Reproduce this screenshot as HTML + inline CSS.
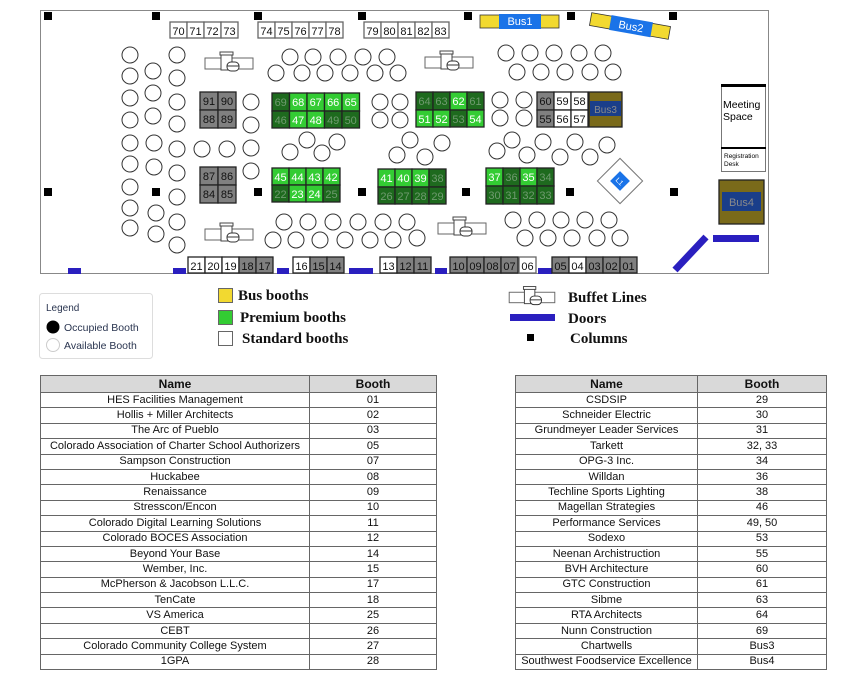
<!DOCTYPE html>
<html><head><meta charset="utf-8"><style>
body{margin:0;width:850px;height:676px;background:#fff;position:relative;overflow:hidden;font-family:"Liberation Sans",sans-serif}
svg{position:absolute;left:0;top:0}
.b rect{stroke:#222;stroke-width:1.3}
.b text{font-size:11px;text-anchor:middle;font-family:"Liberation Sans",sans-serif}
.w rect{fill:#fff}.g rect{fill:#808080}.p rect{fill:#33cc33}.d rect{fill:#1e6a1e}
.w text,.g text{fill:#111}.p text{fill:#fff}.d text{fill:#6f9a6f}
.t rect{stroke:#666}
circle.c{fill:#fff;stroke:#333;stroke-width:1}
table{position:absolute;border-collapse:collapse;table-layout:fixed;font-size:11px;color:#111}
td,th{border:1px solid #666;text-align:center;padding:0;height:14.4px;line-height:13px;white-space:nowrap;overflow:hidden}
th{background:#d9d9d9;font-size:12px;height:16px}
.lg{font-family:"Liberation Serif",serif;font-weight:bold;font-size:15px;fill:#111}
</style></head><body>
<svg width="850" height="676">
<rect x="40.5" y="10.5" width="728" height="263" fill="#fff" stroke="#888"/>
<g fill="#000">
<rect x="44" y="12" width="8" height="8"/><rect x="152" y="12" width="8" height="8"/><rect x="254" y="12" width="8" height="8"/><rect x="358" y="12" width="8" height="8"/><rect x="464" y="12" width="8" height="8"/><rect x="567" y="12" width="8" height="8"/><rect x="669" y="12" width="8" height="8"/>
<rect x="44" y="188" width="8" height="8"/><rect x="152" y="188" width="8" height="8"/><rect x="254" y="188" width="8" height="8"/><rect x="358" y="188" width="8" height="8"/><rect x="462" y="188" width="8" height="8"/><rect x="566" y="188" width="8" height="8"/><rect x="670" y="188" width="8" height="8"/>
</g>
<g>
<circle class="c" cx="130" cy="55" r="8"/><circle class="c" cx="130" cy="76" r="8"/><circle class="c" cx="130" cy="98" r="8"/><circle class="c" cx="130" cy="120" r="8"/><circle class="c" cx="130" cy="143" r="8"/><circle class="c" cx="130" cy="164" r="8"/><circle class="c" cx="130" cy="187" r="8"/><circle class="c" cx="130" cy="208" r="8"/><circle class="c" cx="130" cy="228" r="8"/>
<circle class="c" cx="153" cy="71" r="8"/><circle class="c" cx="153" cy="93" r="8"/><circle class="c" cx="153" cy="116" r="8"/><circle class="c" cx="154" cy="143" r="8"/><circle class="c" cx="154" cy="167" r="8"/><circle class="c" cx="156" cy="213" r="8"/><circle class="c" cx="156" cy="234" r="8"/>
<circle class="c" cx="177" cy="55" r="8"/><circle class="c" cx="177" cy="78" r="8"/><circle class="c" cx="177" cy="102" r="8"/><circle class="c" cx="177" cy="124" r="8"/><circle class="c" cx="177" cy="149" r="8"/><circle class="c" cx="177" cy="173" r="8"/><circle class="c" cx="177" cy="197" r="8"/><circle class="c" cx="177" cy="222" r="8"/><circle class="c" cx="177" cy="245" r="8"/>
<circle class="c" cx="202" cy="149" r="8"/><circle class="c" cx="227" cy="149" r="8"/>
<circle class="c" cx="251" cy="102" r="8"/><circle class="c" cx="251" cy="125" r="8"/><circle class="c" cx="251" cy="148" r="8"/><circle class="c" cx="251" cy="171" r="8"/>
<circle class="c" cx="290" cy="57" r="8"/><circle class="c" cx="313" cy="57" r="8"/><circle class="c" cx="338" cy="57" r="8"/><circle class="c" cx="363" cy="57" r="8"/><circle class="c" cx="387" cy="57" r="8"/>
<circle class="c" cx="276" cy="73" r="8"/><circle class="c" cx="302" cy="73" r="8"/><circle class="c" cx="325" cy="73" r="8"/><circle class="c" cx="350" cy="73" r="8"/><circle class="c" cx="375" cy="73" r="8"/><circle class="c" cx="398" cy="73" r="8"/>
<circle class="c" cx="307" cy="140" r="8"/><circle class="c" cx="337" cy="142" r="8"/><circle class="c" cx="290" cy="152" r="8"/><circle class="c" cx="322" cy="153" r="8"/>
<circle class="c" cx="284" cy="222" r="8"/><circle class="c" cx="308" cy="222" r="8"/><circle class="c" cx="333" cy="222" r="8"/><circle class="c" cx="358" cy="222" r="8"/><circle class="c" cx="383" cy="222" r="8"/><circle class="c" cx="407" cy="222" r="8"/>
<circle class="c" cx="273" cy="240" r="8"/><circle class="c" cx="296" cy="240" r="8"/><circle class="c" cx="320" cy="240" r="8"/><circle class="c" cx="345" cy="240" r="8"/><circle class="c" cx="370" cy="240" r="8"/><circle class="c" cx="393" cy="240" r="8"/><circle class="c" cx="417" cy="238" r="8"/>
<circle class="c" cx="380" cy="102" r="8"/><circle class="c" cx="400" cy="102" r="8"/><circle class="c" cx="380" cy="120" r="8"/><circle class="c" cx="400" cy="120" r="8"/>
<circle class="c" cx="410" cy="140" r="8"/><circle class="c" cx="397" cy="155" r="8"/><circle class="c" cx="425" cy="157" r="8"/><circle class="c" cx="442" cy="143" r="8"/>
<circle class="c" cx="506" cy="53" r="8"/><circle class="c" cx="530" cy="53" r="8"/><circle class="c" cx="554" cy="53" r="8"/><circle class="c" cx="579" cy="53" r="8"/><circle class="c" cx="603" cy="53" r="8"/>
<circle class="c" cx="517" cy="72" r="8"/><circle class="c" cx="541" cy="72" r="8"/><circle class="c" cx="565" cy="72" r="8"/><circle class="c" cx="590" cy="72" r="8"/><circle class="c" cx="613" cy="72" r="8"/>
<circle class="c" cx="500" cy="100" r="8"/><circle class="c" cx="524" cy="100" r="8"/><circle class="c" cx="500" cy="118" r="8"/><circle class="c" cx="524" cy="118" r="8"/>
<circle class="c" cx="497" cy="151" r="8"/><circle class="c" cx="512" cy="140" r="8"/><circle class="c" cx="527" cy="155" r="8"/><circle class="c" cx="543" cy="142" r="8"/><circle class="c" cx="560" cy="157" r="8"/><circle class="c" cx="575" cy="142" r="8"/><circle class="c" cx="590" cy="157" r="8"/><circle class="c" cx="607" cy="145" r="8"/>
<circle class="c" cx="513" cy="220" r="8"/><circle class="c" cx="537" cy="220" r="8"/><circle class="c" cx="561" cy="220" r="8"/><circle class="c" cx="585" cy="220" r="8"/><circle class="c" cx="609" cy="220" r="8"/>
<circle class="c" cx="525" cy="238" r="8"/><circle class="c" cx="548" cy="238" r="8"/><circle class="c" cx="572" cy="238" r="8"/><circle class="c" cx="597" cy="238" r="8"/><circle class="c" cx="620" cy="238" r="8"/>
</g>
<defs><g id="bf"><rect x="-24" y="-5" width="48" height="11" fill="#fff" stroke="#666"/><rect x="-8" y="-10" width="11" height="17" fill="#fff" stroke="#444"/><rect x="-9" y="-11" width="13" height="3" fill="#fff" stroke="#444"/><rect x="-2" y="-1" width="12" height="9" rx="4" fill="#fff" stroke="#333"/><line x1="-2" y1="3" x2="10" y2="3" stroke="#333"/></g></defs>
<use href="#bf" x="229" y="63"/><use href="#bf" x="229" y="234"/><use href="#bf" x="449" y="62"/><use href="#bf" x="462" y="228"/>
<g class="b w t">
<g transform="translate(170,22)"><rect width="17" height="16"/><text x="8.5" y="13">70</text></g>
<g transform="translate(187,22)"><rect width="17" height="16"/><text x="8.5" y="13">71</text></g>
<g transform="translate(204,22)"><rect width="17" height="16"/><text x="8.5" y="13">72</text></g>
<g transform="translate(221,22)"><rect width="17" height="16"/><text x="8.5" y="13">73</text></g>
<g transform="translate(258,22)"><rect width="17" height="16"/><text x="8.5" y="13">74</text></g>
<g transform="translate(275,22)"><rect width="17" height="16"/><text x="8.5" y="13">75</text></g>
<g transform="translate(292,22)"><rect width="17" height="16"/><text x="8.5" y="13">76</text></g>
<g transform="translate(309,22)"><rect width="17" height="16"/><text x="8.5" y="13">77</text></g>
<g transform="translate(326,22)"><rect width="17" height="16"/><text x="8.5" y="13">78</text></g>
<g transform="translate(364,22)"><rect width="17" height="16"/><text x="8.5" y="13">79</text></g>
<g transform="translate(381,22)"><rect width="17" height="16"/><text x="8.5" y="13">80</text></g>
<g transform="translate(398,22)"><rect width="17" height="16"/><text x="8.5" y="13">81</text></g>
<g transform="translate(415,22)"><rect width="17" height="16"/><text x="8.5" y="13">82</text></g>
<g transform="translate(432,22)"><rect width="17" height="16"/><text x="8.5" y="13">83</text></g>
</g>
<g class="b">
<g class="g" transform="translate(200,92)"><rect width="18" height="18"/><text x="9" y="13">91</text></g>
<g class="g" transform="translate(218,92)"><rect width="18" height="18"/><text x="9" y="13">90</text></g>
<g class="g" transform="translate(200,110)"><rect width="18" height="18"/><text x="9" y="13">88</text></g>
<g class="g" transform="translate(218,110)"><rect width="18" height="18"/><text x="9" y="13">89</text></g>
<g class="g" transform="translate(200,167)"><rect width="18" height="18"/><text x="9" y="13">87</text></g>
<g class="g" transform="translate(218,167)"><rect width="18" height="18"/><text x="9" y="13">86</text></g>
<g class="g" transform="translate(200,185)"><rect width="18" height="18"/><text x="9" y="13">84</text></g>
<g class="g" transform="translate(218,185)"><rect width="18" height="18"/><text x="9" y="13">85</text></g>

<g class="d" transform="translate(272,93)"><rect width="17.5" height="18"/><text x="8.7" y="13">69</text></g>
<g class="p" transform="translate(289.5,93)"><rect width="17.5" height="18"/><text x="8.7" y="13">68</text></g>
<g class="p" transform="translate(307,93)"><rect width="17.5" height="18"/><text x="8.7" y="13">67</text></g>
<g class="p" transform="translate(324.5,93)"><rect width="17.5" height="18"/><text x="8.7" y="13">66</text></g>
<g class="p" transform="translate(342,93)"><rect width="17.5" height="18"/><text x="8.7" y="13">65</text></g>
<g class="d" transform="translate(272,111)"><rect width="17.5" height="17"/><text x="8.7" y="13">46</text></g>
<g class="p" transform="translate(289.5,111)"><rect width="17.5" height="17"/><text x="8.7" y="13">47</text></g>
<g class="p" transform="translate(307,111)"><rect width="17.5" height="17"/><text x="8.7" y="13">48</text></g>
<g class="d" transform="translate(324.5,111)"><rect width="17.5" height="17"/><text x="8.7" y="13">49</text></g>
<g class="d" transform="translate(342,111)"><rect width="17.5" height="17"/><text x="8.7" y="13">50</text></g>

<g class="p" transform="translate(272,168)"><rect width="17" height="17"/><text x="8.5" y="13">45</text></g>
<g class="p" transform="translate(289,168)"><rect width="17" height="17"/><text x="8.5" y="13">44</text></g>
<g class="p" transform="translate(306,168)"><rect width="17" height="17"/><text x="8.5" y="13">43</text></g>
<g class="p" transform="translate(323,168)"><rect width="17" height="17"/><text x="8.5" y="13">42</text></g>
<g class="d" transform="translate(272,185)"><rect width="17" height="17"/><text x="8.5" y="13">22</text></g>
<g class="p" transform="translate(289,185)"><rect width="17" height="17"/><text x="8.5" y="13">23</text></g>
<g class="p" transform="translate(306,185)"><rect width="17" height="17"/><text x="8.5" y="13">24</text></g>
<g class="d" transform="translate(323,185)"><rect width="17" height="17"/><text x="8.5" y="13">25</text></g>

<g class="p" transform="translate(378,169)"><rect width="17" height="18"/><text x="8.5" y="13">41</text></g>
<g class="p" transform="translate(395,169)"><rect width="17" height="18"/><text x="8.5" y="13">40</text></g>
<g class="p" transform="translate(412,169)"><rect width="17" height="18"/><text x="8.5" y="13">39</text></g>
<g class="d" transform="translate(429,169)"><rect width="17" height="18"/><text x="8.5" y="13">38</text></g>
<g class="d" transform="translate(378,187)"><rect width="17" height="17"/><text x="8.5" y="13">26</text></g>
<g class="d" transform="translate(395,187)"><rect width="17" height="17"/><text x="8.5" y="13">27</text></g>
<g class="d" transform="translate(412,187)"><rect width="17" height="17"/><text x="8.5" y="13">28</text></g>
<g class="d" transform="translate(429,187)"><rect width="17" height="17"/><text x="8.5" y="13">29</text></g>

<g class="d" transform="translate(416,92)"><rect width="17" height="18"/><text x="8.5" y="13">64</text></g>
<g class="d" transform="translate(433,92)"><rect width="17" height="18"/><text x="8.5" y="13">63</text></g>
<g class="p" transform="translate(450,92)"><rect width="17" height="18"/><text x="8.5" y="13">62</text></g>
<g class="d" transform="translate(467,92)"><rect width="17" height="18"/><text x="8.5" y="13">61</text></g>
<g class="p" transform="translate(416,110)"><rect width="17" height="17"/><text x="8.5" y="13">51</text></g>
<g class="p" transform="translate(433,110)"><rect width="17" height="17"/><text x="8.5" y="13">52</text></g>
<g class="d" transform="translate(450,110)"><rect width="17" height="17"/><text x="8.5" y="13">53</text></g>
<g class="p" transform="translate(467,110)"><rect width="17" height="17"/><text x="8.5" y="13">54</text></g>

<g class="g" transform="translate(537,92)"><rect width="17" height="18"/><text x="8.5" y="13">60</text></g>
<g class="w" transform="translate(554,92)"><rect width="17" height="18"/><text x="8.5" y="13">59</text></g>
<g class="w" transform="translate(571,92)"><rect width="17" height="18"/><text x="8.5" y="13">58</text></g>
<g class="g" transform="translate(537,110)"><rect width="17" height="17"/><text x="8.5" y="13">55</text></g>
<g class="w" transform="translate(554,110)"><rect width="17" height="17"/><text x="8.5" y="13">56</text></g>
<g class="w" transform="translate(571,110)"><rect width="17" height="17"/><text x="8.5" y="13">57</text></g>

<g class="p" transform="translate(486,168)"><rect width="17" height="18"/><text x="8.5" y="13">37</text></g>
<g class="d" transform="translate(503,168)"><rect width="17" height="18"/><text x="8.5" y="13">36</text></g>
<g class="p" transform="translate(520,168)"><rect width="17" height="18"/><text x="8.5" y="13">35</text></g>
<g class="d" transform="translate(537,168)"><rect width="17" height="18"/><text x="8.5" y="13">34</text></g>
<g class="d" transform="translate(486,186)"><rect width="17" height="18"/><text x="8.5" y="13">30</text></g>
<g class="d" transform="translate(503,186)"><rect width="17" height="18"/><text x="8.5" y="13">31</text></g>
<g class="d" transform="translate(520,186)"><rect width="17" height="18"/><text x="8.5" y="13">32</text></g>
<g class="d" transform="translate(537,186)"><rect width="17" height="18"/><text x="8.5" y="13">33</text></g>
</g>
<g fill="#2a1fbf">
<rect x="68" y="268" width="13" height="6"/><rect x="173" y="268" width="13" height="6"/><rect x="277" y="268" width="12" height="6"/><rect x="349" y="268" width="24" height="6"/><rect x="435" y="268" width="12" height="6"/><rect x="538" y="268" width="14" height="6"/>
<rect x="713" y="235" width="46" height="7"/>
</g>
<line x1="675" y1="270" x2="706" y2="237" stroke="#2a1fbf" stroke-width="7"/>
<g class="b">
<g class="w" transform="translate(188,257)"><rect width="17" height="16"/><text x="8.5" y="13">21</text></g>
<g class="w" transform="translate(205,257)"><rect width="17" height="16"/><text x="8.5" y="13">20</text></g>
<g class="w" transform="translate(222,257)"><rect width="17" height="16"/><text x="8.5" y="13">19</text></g>
<g class="g" transform="translate(239,257)"><rect width="17" height="16"/><text x="8.5" y="13">18</text></g>
<g class="g" transform="translate(256,257)"><rect width="17" height="16"/><text x="8.5" y="13">17</text></g>
<g class="w" transform="translate(293,257)"><rect width="17" height="16"/><text x="8.5" y="13">16</text></g>
<g class="g" transform="translate(310,257)"><rect width="17" height="16"/><text x="8.5" y="13">15</text></g>
<g class="g" transform="translate(327,257)"><rect width="17" height="16"/><text x="8.5" y="13">14</text></g>
<g class="w" transform="translate(380,257)"><rect width="17" height="16"/><text x="8.5" y="13">13</text></g>
<g class="g" transform="translate(397,257)"><rect width="17" height="16"/><text x="8.5" y="13">12</text></g>
<g class="g" transform="translate(414,257)"><rect width="17" height="16"/><text x="8.5" y="13">11</text></g>
<g class="g" transform="translate(450,257)"><rect width="17" height="16"/><text x="8.5" y="13">10</text></g>
<g class="g" transform="translate(467,257)"><rect width="17" height="16"/><text x="8.5" y="13">09</text></g>
<g class="g" transform="translate(484,257)"><rect width="17" height="16"/><text x="8.5" y="13">08</text></g>
<g class="g" transform="translate(501,257)"><rect width="17" height="16"/><text x="8.5" y="13">07</text></g>
<g class="w t" transform="translate(519,257)"><rect width="17" height="16"/><text x="8.5" y="13">06</text></g>
<g class="g" transform="translate(552,257)"><rect width="17" height="16"/><text x="8.5" y="13">05</text></g>
<g class="w" transform="translate(569,257)"><rect width="17" height="16"/><text x="8.5" y="13">04</text></g>
<g class="g" transform="translate(586,257)"><rect width="17" height="16"/><text x="8.5" y="13">03</text></g>
<g class="g" transform="translate(603,257)"><rect width="17" height="16"/><text x="8.5" y="13">02</text></g>
<g class="g" transform="translate(620,257)"><rect width="17" height="16"/><text x="8.5" y="13">01</text></g>
</g>
<rect x="589" y="92" width="33" height="35" fill="#7a6a1a" stroke="#222" stroke-width="1.3"/>
<rect x="590" y="101" width="31" height="15" fill="#1a3e8a"/>
<text x="605.5" y="113" font-size="10" fill="#8a8a8a" text-anchor="middle">Bus3</text>
<rect x="480" y="15" width="79" height="13" fill="#f2d930" stroke="#333" stroke-width="0.8"/>
<rect x="499" y="14" width="42" height="15" fill="#1a73e8"/>
<text x="520" y="25" font-size="11" fill="#fff" text-anchor="middle">Bus1</text>
<g transform="translate(630,26) rotate(10)">
<rect x="-40" y="-6.5" width="80" height="13" fill="#f2d930" stroke="#333" stroke-width="0.8"/>
<rect x="-20" y="-7.5" width="42" height="15" fill="#1a73e8"/>
<text x="1" y="4" font-size="11" fill="#fff" text-anchor="middle">Bus2</text>
</g>
<rect x="721.5" y="85.5" width="44" height="62" fill="#fff" stroke="#777"/>
<rect x="721" y="84" width="45" height="3" fill="#000"/>
<text x="723" y="108" font-size="10.5" fill="#000">Meeting</text>
<text x="723" y="120" font-size="10.5" fill="#000">Space</text>
<rect x="721.5" y="148.5" width="44" height="23" fill="#fff" stroke="#777"/>
<rect x="721" y="147" width="45" height="2" fill="#000"/>
<text x="724" y="158" font-size="6.5" fill="#000">Registration</text>
<text x="724" y="166" font-size="6.5" fill="#000">Desk</text>
<rect x="719" y="180" width="45" height="44" fill="#7a6a1a" stroke="#222" stroke-width="1.3"/>
<rect x="722" y="192" width="39" height="19" fill="#1a3e8a"/>
<text x="741.5" y="206" font-size="11" fill="#8a8a8a" text-anchor="middle">Bus4</text>
<g transform="translate(620,181) rotate(-45)">
<rect x="-16" y="-16" width="32" height="32" fill="#fff" stroke="#777"/>
<rect x="-7" y="-7" width="14" height="14" fill="#1a73e8"/>
<text x="0" y="3" font-size="7" fill="#fff" text-anchor="middle" transform="rotate(90)">L1</text>
</g>
<rect x="39.5" y="293.5" width="113" height="65" rx="3" fill="#fff" stroke="#ddd"/>
<text x="46" y="311" font-size="10" fill="#2a3550">Legend</text>
<circle cx="53" cy="327" r="6.5" fill="#000"/>
<text x="64" y="331" font-size="10.5" fill="#2a3550">Occupied Booth</text>
<circle cx="53" cy="345" r="6.5" fill="#fff" stroke="#ccc"/>
<text x="64" y="349" font-size="10.5" fill="#2a3550">Available Booth</text>
<rect x="218.5" y="288.5" width="14" height="14" fill="#f2d930" stroke="#666"/>
<rect x="218.5" y="310.5" width="14" height="14" fill="#33cc33" stroke="#666"/>
<rect x="218.5" y="331.5" width="14" height="14" fill="#fff" stroke="#666"/>
<text class="lg" x="238" y="300">Bus booths</text>
<text class="lg" x="240" y="322">Premium booths</text>
<text class="lg" x="242" y="343">Standard booths</text>
<g transform="translate(532,297) scale(0.95)"><use href="#bf"/></g>
<rect x="510" y="314" width="45" height="7" fill="#2a1fbf"/>
<rect x="527" y="334" width="7" height="7" fill="#000"/>
<text class="lg" x="568" y="302">Buffet Lines</text>
<text class="lg" x="568" y="323">Doors</text>
<text class="lg" x="570" y="343">Columns</text>
</svg>

<table style="left:40px;top:375px;width:397px">
<colgroup><col style="width:269px"><col></colgroup>
<tr><th>Name</th><th>Booth</th></tr>
<tr><td>HES Facilities Management</td><td>01</td></tr>
<tr><td>Hollis + Miller Architects</td><td>02</td></tr>
<tr><td>The Arc of Pueblo</td><td>03</td></tr>
<tr><td>Colorado Association of Charter School Authorizers</td><td>05</td></tr>
<tr><td>Sampson Construction</td><td>07</td></tr>
<tr><td>Huckabee</td><td>08</td></tr>
<tr><td>Renaissance</td><td>09</td></tr>
<tr><td>Stresscon/Encon</td><td>10</td></tr>
<tr><td>Colorado Digital Learning Solutions</td><td>11</td></tr>
<tr><td>Colorado BOCES Association</td><td>12</td></tr>
<tr><td>Beyond Your Base</td><td>14</td></tr>
<tr><td>Wember, Inc.</td><td>15</td></tr>
<tr><td>McPherson &amp; Jacobson L.L.C.</td><td>17</td></tr>
<tr><td>TenCate</td><td>18</td></tr>
<tr><td>VS America</td><td>25</td></tr>
<tr><td>CEBT</td><td>26</td></tr>
<tr><td>Colorado Community College System</td><td>27</td></tr>
<tr><td>1GPA</td><td>28</td></tr>
</table>

<table style="left:515px;top:375px;width:312px">
<colgroup><col style="width:182px"><col></colgroup>
<tr><th>Name</th><th>Booth</th></tr>
<tr><td>CSDSIP</td><td>29</td></tr>
<tr><td>Schneider Electric</td><td>30</td></tr>
<tr><td>Grundmeyer Leader Services</td><td>31</td></tr>
<tr><td>Tarkett</td><td>32, 33</td></tr>
<tr><td>OPG-3 Inc.</td><td>34</td></tr>
<tr><td>Willdan</td><td>36</td></tr>
<tr><td>Techline Sports Lighting</td><td>38</td></tr>
<tr><td>Magellan Strategies</td><td>46</td></tr>
<tr><td>Performance Services</td><td>49, 50</td></tr>
<tr><td>Sodexo</td><td>53</td></tr>
<tr><td>Neenan Archistruction</td><td>55</td></tr>
<tr><td>BVH Architecture</td><td>60</td></tr>
<tr><td>GTC Construction</td><td>61</td></tr>
<tr><td>Sibme</td><td>63</td></tr>
<tr><td>RTA Architects</td><td>64</td></tr>
<tr><td>Nunn Construction</td><td>69</td></tr>
<tr><td>Chartwells</td><td>Bus3</td></tr>
<tr><td>Southwest Foodservice Excellence</td><td>Bus4</td></tr>
</table>
</body></html>
